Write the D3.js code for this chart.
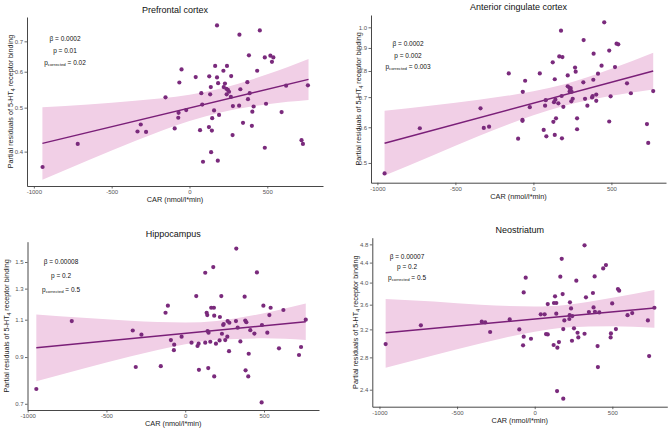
<!DOCTYPE html>
<html><head><meta charset="utf-8">
<script src="https://cdn.jsdelivr.net/npm/d3@7/dist/d3.min.js"></script>
<style>
html,body{margin:0;padding:0;background:#fff;}
svg{display:block;font-family:"Liberation Sans",Arial,sans-serif;}
</style></head>
<body>
<svg id="chart" width="670" height="429"></svg>
<script>
// ---------- DATA ----------
const xTicks = [-1000, -500, 0, 500];

// Prefrontal cortex
const pfcCAR = [-944,-718,-334,-313,-279,-154,-95,-72,-70,-65,-51,-21,40,68,76,82,87,125,127,133,137,139,144,146,158,165,177,177,184,182,190,218,220,228,237,239,241,247,254,268,266,277,279,319,321,327,344,372,376,382,387,401,404,412,435,452,484,484,492,520,530,539,592,621,720,729,761];
const pfcBinding = [0.370,0.416,0.443,0.459,0.442,0.527,0.450,0.475,0.487,0.568,0.607,0.494,0.584,0.446,0.538,0.508,0.380,0.453,0.586,0.535,0.555,0.399,0.445,0.474,0.493,0.618,0.583,0.759,0.566,0.382,0.482,0.603,0.555,0.565,0.550,0.535,0.618,0.547,0.542,0.587,0.528,0.435,0.504,0.505,0.724,0.549,0.463,0.569,0.522,0.652,0.538,0.456,0.490,0.503,0.603,0.740,0.645,0.408,0.510,0.651,0.631,0.645,0.489,0.559,0.424,0.416,0.560];
const pfcFitX = [-945, 765];
const pfcFitY = [0.417, 0.577];
const pfcBandX = [-945,-650,-350,0,200,500,765];
const pfcBandUpper = [0.501,0.508,0.518,0.534,0.551,0.592,0.640];
const pfcBandLower = [0.347,0.383,0.422,0.467,0.488,0.509,0.520];
const pfcYTicks = [0.4,0.5,0.6,0.7];
const pfcStats = ["0.0002","0.01","0.02"];

// Anterior cingulate cortex
const accCAR = [-954,-728,-339,-318,-284,-158,-98,-70,-68,-70,-53,-23,41,66,75,79,83,124,128,132,137,137,141,145,160,166,177,181,183,186,192,220,220,230,232,237,239,245,243,252,267,271,280,280,320,322,331,346,376,380,384,386,403,403,414,454,437,486,486,495,523,533,544,600,625,728,736,768];
const accBinding = [0.474,0.597,0.661,0.598,0.602,0.790,0.566,0.623,0.719,0.620,0.761,0.665,0.790,0.592,0.670,0.689,0.573,0.836,0.617,0.682,0.767,0.577,0.691,0.628,0.678,0.862,0.983,0.704,0.567,0.859,0.666,0.782,0.740,0.735,0.720,0.728,0.733,0.719,0.685,0.694,0.814,0.797,0.628,0.594,0.755,0.937,0.694,0.670,0.699,0.704,0.765,0.874,0.709,0.687,0.789,1.026,0.822,0.888,0.618,0.703,0.816,0.920,0.917,0.751,0.714,0.610,0.554,0.722];
const accFitX = [-954, 768];
const accFitY = [0.553, 0.800];
const accBandX = [-954,-650,-350,0,200,500,768];
const accBandUpper = [0.653,0.671,0.691,0.721,0.748,0.809,0.878];
const accBandLower = [0.469,0.519,0.574,0.638,0.670,0.705,0.728];
const accYTicks = [0.5,0.6,0.7,0.8,0.9,1.0];
const accStats = ["0.0002","0.002","0.003"];

// Hippocampus
const hipCAR = [-945,-720,-333,-314,-278,-155,-110,-125,-91,-70,-72,-23,40,70,78,85,87,127,127,136,140,142,148,146,159,165,178,182,184,184,195,218,220,229,233,241,244,254,267,269,278,280,322,324,333,350,377,381,388,383,400,403,413,439,455,485,487,496,521,534,542,595,623,722,735,765];
const hipBinding = [0.758,1.092,1.038,0.853,1.015,0.857,1.186,1.142,0.986,0.962,0.934,1.004,0.972,1.249,0.955,0.967,0.840,1.416,0.972,1.142,1.128,1.035,1.026,0.848,0.977,1.173,1.460,1.173,0.811,1.124,0.967,0.984,1.116,1.249,1.020,1.069,1.075,0.986,1.004,1.092,0.929,1.082,1.092,1.612,1.054,0.979,1.245,1.095,1.085,0.838,0.811,0.916,1.040,1.021,1.418,0.705,1.069,1.186,1.026,1.128,1.173,0.943,1.159,0.910,0.950,1.100];
const hipFitX = [-945, 765];
const hipFitY = [0.946, 1.088];
const hipBandX = [-945,-650,-350,0,200,500,765];
const hipBandUpper = [1.131,1.111,1.094,1.084,1.093,1.139,1.200];
const hipBandLower = [0.790,0.845,0.902,0.964,0.988,0.995,0.986];
const hipYTicks = [0.7,0.9,1.1,1.3,1.5];
const hipStats = ["0.00008","0.2","0.5"];

// Neostriatum
const neoCAR = [-960,-733,-341,-319,-287,-161,-99,-75,-71,-71,-58,-24,39,64,73,84,84,122,124,131,139,139,144,146,156,165,174,180,184,184,191,223,225,227,234,242,240,253,268,276,281,321,321,330,349,375,379,386,388,405,407,416,441,459,489,491,499,523,536,544,598,628,729,737,771];
const neoBinding = [2.984,3.262,3.319,3.308,3.160,3.356,3.199,2.965,3.090,3.817,4.094,3.060,3.438,3.438,3.129,3.124,3.611,2.970,3.629,3.746,3.629,3.449,2.384,2.932,3.012,4.114,4.481,3.787,2.299,3.205,3.340,3.362,3.425,3.640,3.537,3.410,3.031,3.216,4.036,3.149,3.080,3.134,4.777,3.728,3.475,3.806,3.554,4.120,3.480,2.955,2.673,3.470,4.280,4.348,3.080,3.139,3.622,3.205,3.879,3.848,3.425,3.458,3.340,2.818,3.548];
const neoFitX = [-960, 771];
const neoFitY = [3.149, 3.543];
const neoBandX = [-960,-650,-350,0,200,500,771];
const neoBandUpper = [3.700,3.655,3.600,3.570,3.596,3.722,3.860];
const neoBandLower = [2.665,2.830,2.992,3.164,3.228,3.250,3.225];
const neoYTicks = [2.4,2.8,3.2,3.6,4.0,4.4,4.8];
const neoStats = ["0.00007","0.2","0.5"];

const titles = ["Prefrontal cortex","Anterior cingulate cortex","Hippocampus","Neostriatum"];
const xTitle = "CAR (nmol/l*min)";

// ---------- LAYOUT ----------
const panels = [
  {title:titles[0], xs:pfcCAR, ys:pfcBinding, fx:pfcFitX, fy:pfcFitY, bx:pfcBandX, bu:pfcBandUpper, bl:pfcBandLower, yt:pfcYTicks, st:pfcStats,
   l:27, r:323, t:17, b:186, xDom:[-1044,858], yDom:[0.336,0.792], titleY:9.5, ytx:10, ann:{x:65, y:[38.3,50,62.3]}},
  {title:titles[1], xs:accCAR, ys:accBinding, fx:accFitX, fy:accFitY, bx:accBandX, bu:accBandUpper, bl:accBandLower, yt:accYTicks, st:accStats,
   l:371, r:666, t:15, b:182.7, xDom:[-1041,850], yDom:[0.452,1.065], titleY:7, ytx:357.7, ann:{x:408, y:[43.3,55,65.7]}},
  {title:titles[2], xs:hipCAR, ys:hipBinding, fx:hipFitX, fy:hipFitY, bx:hipBandX, bu:hipBandUpper, bl:hipBandLower, yt:hipYTicks, st:hipStats,
   l:27.5, r:319, t:241.7, b:410, xDom:[-1001,849], yDom:[0.677,1.673], titleY:234, ytx:5.5, ann:{x:61, y:[261.7,275,289.3]}},
  {title:titles[3], xs:neoCAR, ys:neoBinding, fx:neoFitX, fy:neoFitY, bx:neoBandX, bu:neoBandUpper, bl:neoBandLower, yt:neoYTicks, st:neoStats,
   l:372.3, r:667.3, t:237.7, b:406.7, xDom:[-1046,854], yDom:[2.213,4.955], titleY:230, ytx:355.3, ann:{x:407, y:[256.7,266.7,276.7]}}
];

const POINT = "#7a2a7c", LINE = "#7a1f78", BAND = "#f1cfe6";
const svg = d3.select("#chart");

function drawPanel(p){
  const g = svg.append("g");
  const x = d3.scaleLinear().domain(p.xDom).range([p.l, p.r]);
  const y = d3.scaleLog().domain(p.yDom).range([p.b, p.t]);

  const band = p.bx.map((v,i)=>({x:v, hi:p.bu[i], lo:p.bl[i]}));
  g.append("path").datum(band)
    .attr("fill", BAND).attr("stroke","none")
    .attr("d", d3.area().x(d=>x(d.x)).y0(d=>y(d.lo)).y1(d=>y(d.hi)).curve(d3.curveMonotoneX));

  const fit = p.fx.map((v,i)=>({x:v, y:p.fy[i]}));
  g.append("path").datum(fit)
    .attr("fill","none").attr("stroke", LINE).attr("stroke-width",1.4)
    .attr("d", d3.line().x(d=>x(d.x)).y(d=>y(d.y)));

  g.selectAll("circle.pt").data(p.xs.map((v,i)=>({x:v, y:p.ys[i]})))
    .join("circle").attr("class","pt")
    .attr("cx", d=>x(d.x)).attr("cy", d=>y(d.y)).attr("r",2.1)
    .attr("fill", POINT);

  // axes
  const ax = g.append("g").attr("transform",`translate(0,${p.b})`)
    .call(d3.axisBottom(x).tickValues(xTicks).tickFormat(d=>String(d)).tickSize(2.5).tickSizeOuter(0).tickPadding(1.5));
  const ay = g.append("g").attr("transform",`translate(${p.l},0)`)
    .call(d3.axisLeft(y).tickValues(p.yt).tickFormat(d3.format(".1f")).tickSize(2.5).tickSizeOuter(0).tickPadding(1.5));
  [ax, ay].forEach(a=>{
    a.select(".domain").attr("stroke","#333").attr("stroke-width",0.9);
    a.selectAll(".tick line").attr("stroke","#444").attr("stroke-width",0.8);
    a.selectAll(".tick text").attr("fill","#555").style("font-size","6px").style("font-family",'"Liberation Sans",Arial,sans-serif');
  });

  // titles
  const cx = (p.l + p.r)/2;
  g.append("text").attr("x",cx).attr("y",p.titleY).attr("text-anchor","middle")
    .attr("dominant-baseline","central").style("font-size","9px").attr("fill","#111").text(p.title);
  g.append("text").attr("x",cx).attr("y",p.b+13.5).attr("text-anchor","middle")
    .attr("dominant-baseline","central").style("font-size","7.3px").attr("fill","#222").text(xTitle);

  const cy = (p.t + p.b)/2;
  const yl = g.append("text").attr("transform",`translate(${p.ytx},${cy}) rotate(-90)`)
    .attr("text-anchor","middle").attr("dominant-baseline","central")
    .style("font-size","7.2px").attr("fill","#222");
  yl.append("tspan").text("Partial residuals of 5-HT");
  yl.append("tspan").attr("baseline-shift","sub").style("font-size","5px").text("4");
  yl.append("tspan").text(" receptor binding");

  // annotations
  const a = p.ann;
  g.append("text").attr("x",a.x).attr("y",a.y[0]).attr("text-anchor","middle").attr("dominant-baseline","central")
    .style("font-size","6.5px").attr("fill","#111").text("β = " + p.st[0]);
  g.append("text").attr("x",a.x).attr("y",a.y[1]).attr("text-anchor","middle").attr("dominant-baseline","central")
    .style("font-size","6.5px").attr("fill","#111").text("p = " + p.st[1]);
  const t3 = g.append("text").attr("x",a.x).attr("y",a.y[2]).attr("text-anchor","middle").attr("dominant-baseline","central")
    .style("font-size","6.5px").attr("fill","#111");
  t3.append("tspan").text("p");
  t3.append("tspan").attr("baseline-shift","sub").style("font-size","4.3px").text("corrected");
  t3.append("tspan").text(" = " + p.st[2]);
}

panels.forEach(drawPanel);
</script>
</body></html>
